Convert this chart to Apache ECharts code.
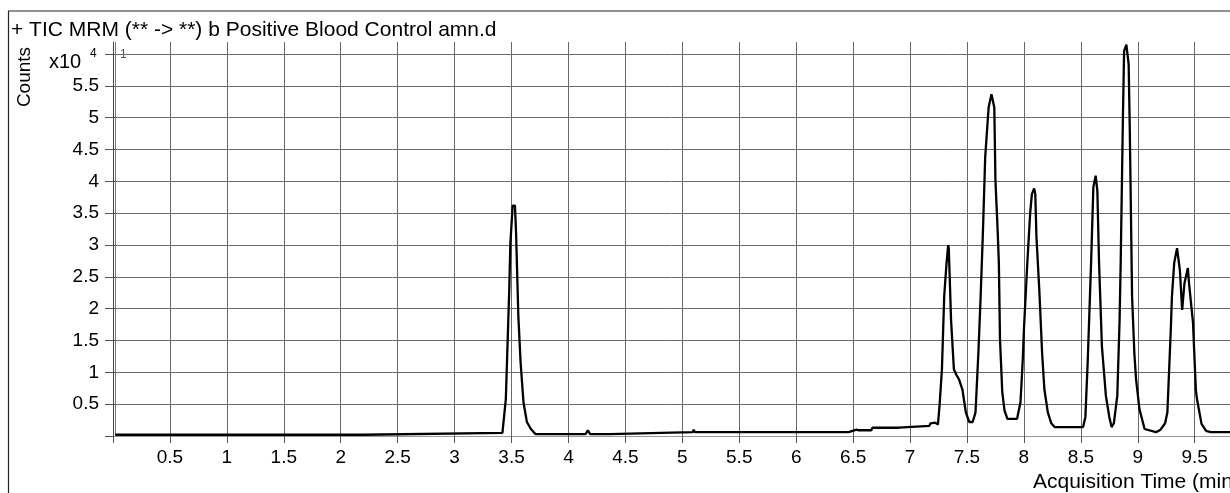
<!DOCTYPE html>
<html>
<head>
<meta charset="utf-8">
<script src="https://cdn.jsdelivr.net/npm/echarts@6/dist/echarts.min.js"></script>
<style>
html,body{margin:0;padding:0;background:#fff;}
#c{width:1230px;height:493px;}
</style>
</head>
<body>
<div id="c"></div>
<script>
// Acquisition time (min)
var times = [
 0.02, 2.2, 2.21, 3.42, 3.45, 3.48, 3.49, 3.51, 3.53, 3.54, 3.56, 3.58, 3.605, 3.635, 3.67, 3.71,
 4.15, 4.17, 4.19, 4.36, 4.37, 5.09, 5.1, 5.11, 6.46, 6.47, 6.53, 6.55, 6.66, 6.67, 6.9, 6.91,
 7.17, 7.18, 7.22, 7.245, 7.26, 7.28, 7.3, 7.32, 7.335, 7.34, 7.35, 7.36, 7.385, 7.41, 7.43, 7.46,
 7.49, 7.52, 7.55, 7.575, 7.6, 7.62, 7.64, 7.66, 7.69, 7.715, 7.74, 7.75, 7.77, 7.78, 7.79, 7.81,
 7.83, 7.855, 7.94, 7.97, 7.99, 8.0, 8.03, 8.055, 8.07, 8.09, 8.1, 8.11, 8.135, 8.16, 8.18, 8.21,
 8.24, 8.27, 8.52, 8.54, 8.56, 8.59, 8.61, 8.63, 8.645, 8.66, 8.685, 8.72, 8.75, 8.77, 8.79, 8.82,
 8.84, 8.85, 8.87, 8.88, 8.9, 8.92, 8.93, 8.95, 8.97, 8.985, 9.015, 9.06, 9.16, 9.2, 9.24, 9.26,
 9.29, 9.3, 9.32, 9.345, 9.37, 9.39, 9.4, 9.41, 9.44, 9.45, 9.485, 9.5, 9.51, 9.52, 9.56, 9.6,
 9.64, 9.81
];
// Counts (x10^4)
var counts = [
 0.02, 0.02, 0.05, 0.05, 0.58, 2.3, 3.03, 3.62, 3.62, 3.19, 1.88, 1.15, 0.53, 0.22, 0.11, 0.03,
 0.03, 0.09, 0.03, 0.03, 0.06, 0.06, 0.1, 0.06, 0.06, 0.09, 0.1, 0.09, 0.09, 0.13, 0.13, 0.16,
 0.16, 0.2, 0.21, 0.18, 0.5, 1.05, 2.2, 2.7, 3.0, 2.95, 2.4, 1.83, 1.05, 0.95, 0.89, 0.73,
 0.37, 0.22, 0.22, 0.37, 1.3, 2.19, 3.2, 4.38, 5.16, 5.37, 5.16, 4.02, 3.2, 2.72, 1.52, 0.69,
 0.4, 0.27, 0.27, 0.53, 1.2, 1.67, 2.72, 3.5, 3.8, 3.89, 3.8, 3.13, 2.3, 1.3, 0.73, 0.37,
 0.2, 0.14, 0.14, 0.3, 1.15, 2.72, 3.91, 4.09, 3.85, 2.72, 1.41, 0.63, 0.3, 0.14, 0.2, 0.63,
 1.8, 2.72, 5.06, 6.05, 6.15, 5.84, 4.8, 2.19, 1.3, 0.89, 0.42, 0.11, 0.06, 0.1, 0.2, 0.37,
 1.67, 2.19, 2.72, 2.95, 2.6, 1.98, 2.0, 2.4, 2.64, 2.4, 1.78, 1.15, 0.73, 0.58, 0.19, 0.08,
 0.06, 0.06
];
var xTickLabels = ['0.5','1','1.5','2','2.5','3','3.5','4','4.5','5','5.5','6','6.5','7','7.5','8','8.5','9','9.5'];
var yTickLabels = ['0.5','1','1.5','2','2.5','3','3.5','4','4.5','5','5.5'];
var titleText = '+ TIC MRM (** -> **) b Positive Blood Control amn.d';
var yAxisName = 'Counts';
var xAxisName = 'Acquisition Time (min)';

var FONT = "'Liberation Sans', Arial, sans-serif";
var data = times.map(function (t, i) { return [t, counts[i]]; });

function fmt(list) {
  return function (v) {
    var s = String(Math.round(v * 100) / 100);
    return list.indexOf(s) >= 0 ? s : '';
  };
}

var chart = echarts.init(document.getElementById('c'), null, {renderer: 'canvas'});
chart.setOption({
  animation: false,
  backgroundColor: '#fff',
  grid: {left: 113, right: 0, top: 42, bottom: 57, containLabel: false},
  xAxis: {
    type: 'value', min: 0, max: 9.81, interval: 0.5,
    axisLine: {show: true, lineStyle: {color: '#999', width: 1}},
    axisTick: {show: true, length: 7, lineStyle: {color: '#555'}},
    axisLabel: {formatter: fmt(xTickLabels), color: '#000', fontSize: 19, fontFamily: FONT, margin: 12, showMaxLabel: false},
    splitLine: {show: true, showMinLine: false, showMaxLine: false, lineStyle: {color: '#6a6a6a', width: 1}}
  },
  yAxis: {
    type: 'value', min: 0, max: 6.19, interval: 0.5,
    axisLine: {show: true, lineStyle: {color: '#444', width: 1}},
    axisTick: {show: true, length: 8, lineStyle: {color: '#555'}},
    axisLabel: {formatter: fmt(yTickLabels), color: '#000', fontSize: 19, fontFamily: FONT, margin: 14, showMaxLabel: false},
    splitLine: {show: true, showMinLine: false, showMaxLine: false, lineStyle: {color: '#6a6a6a', width: 1}}
  },
  series: [{
    type: 'line', data: data, symbol: 'none', smooth: false,
    lineStyle: {color: '#000', width: 2.3},
    z: 5
  }],
  graphic: [
    {type: 'line', shape: {x1: 8, y1: 11, x2: 1230, y2: 11}, style: {stroke: '#222', lineWidth: 1.2}},
    {type: 'line', shape: {x1: 8.5, y1: 11, x2: 8.5, y2: 493}, style: {stroke: '#222', lineWidth: 1.2}},
    {type: 'line', shape: {x1: 115.5, y1: 42, x2: 115.5, y2: 436}, style: {stroke: '#777', lineWidth: 1}},
    {type: 'text', left: 11, top: 20, style: {text: titleText, font: '21px ' + FONT, fill: '#000'}},
    {type: 'text', x: 25, y: 77, rotation: Math.PI / 2, style: {text: yAxisName, font: '19px ' + FONT, fill: '#000', align: 'center', verticalAlign: 'middle'}},
    {type: 'text', left: 49, top: 52, style: {text: 'x10', font: '20px ' + FONT, fill: '#000'}},
    {type: 'text', left: 90, top: 48, style: {text: '4', font: '12px ' + FONT, fill: '#000'}},
    {type: 'text', left: 120, top: 49, style: {text: '1', font: '12px ' + FONT, fill: '#555'}},
    {type: 'text', left: 1033, top: 472, style: {text: xAxisName, font: '21px ' + FONT, fill: '#000'}}
  ]
});
</script>
</body>
</html>
